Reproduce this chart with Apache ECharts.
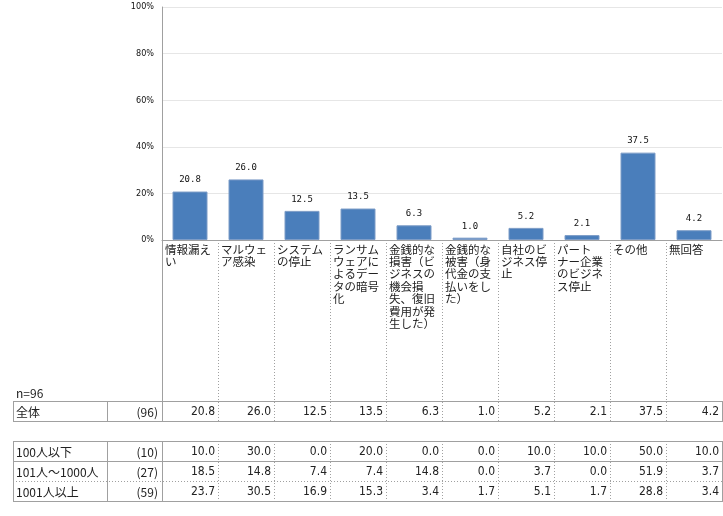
<!DOCTYPE html>
<html>
<head>
<meta charset="utf-8">
<script src="https://cdn.jsdelivr.net/npm/echarts@6/dist/echarts.min.js"></script>
<style>
  html, body { margin: 0; padding: 0; background: #fff; }
  #chart { width: 723px; height: 516px; }
</style>
</head>
<body>
<div id="chart"></div>
<script>
// データ
var categories = [
  '情報漏えい',
  'マルウェア感染',
  'システムの停止',
  'ランサムウェアによるデータの暗号化',
  '金銭的な損害（ビジネスの機会損失、復旧費用が発生した）',
  '金銭的な被害（身代金の支払いをした）',
  '自社のビジネス停止',
  'パートナー企業のビジネス停止',
  'その他',
  '無回答'
];
var totalValues = [20.8, 26.0, 12.5, 13.5, 6.3, 1.0, 5.2, 2.1, 37.5, 4.2];
var sampleLabel = 'n=96';
var totalName = '全体';
var totalCount = '(96)';
var rowNames = ['100人以下', '101人～1000人', '1001人以上'];
var rowCounts = ['(10)', '(27)', '(59)'];
var row100 = [10.0, 30.0, 0.0, 20.0, 0.0, 0.0, 10.0, 10.0, 50.0, 10.0];
var row1000 = [18.5, 14.8, 7.4, 7.4, 14.8, 0.0, 3.7, 0.0, 51.9, 3.7];
var row1001 = [23.7, 30.5, 16.9, 15.3, 3.4, 1.7, 5.1, 1.7, 28.8, 3.4];
var rowValues = [row100, row1000, row1001];
var yMax = 100;
var yStep = 20;

// 4文字ごとに折り返す（行頭禁則あり）
var noStart = '、。）)ーァィゥェォャュョッ';
function wrapLabel(s, n) {
  var lines = [];
  var cur = '';
  for (var i = 0; i < s.length; i++) {
    var ch = s[i];
    if (cur.length >= n) {
      if (noStart.indexOf(ch) >= 0) {
        var last = cur.slice(-1);
        lines.push(cur.slice(0, -1));
        cur = last;
      } else {
        lines.push(cur);
        cur = '';
      }
    }
    cur += ch;
  }
  if (cur) lines.push(cur);
  return lines.join('\n');
}

var myChart = echarts.init(document.getElementById('chart'));
var lineColor = '#a0a0a0';
var cjk = '"Noto Sans CJK JP", sans-serif';
var numFont = '"DejaVu Sans Condensed", "DejaVu Sans", sans-serif';

myChart.setOption({
  animation: false,
  grid: { left: 162, right: 1, top: 7, bottom: 276 },
  xAxis: {
    type: 'category',
    data: categories,
    axisLine: { lineStyle: { color: lineColor } },
    axisTick: { show: false },
    axisLabel: { show: false }
  },
  yAxis: {
    type: 'value',
    min: 0,
    max: yMax,
    interval: yStep,
    axisLine: { show: true, lineStyle: { color: lineColor } },
    axisTick: { show: false },
    splitLine: { lineStyle: { color: '#e6e6e6' } },
    axisLabel: {
      formatter: '{value}%',
      fontSize: 9,
      fontFamily: numFont,
      color: '#111',
      margin: 8
    }
  },
  series: [{
    type: 'bar',
    data: totalValues,
    barWidth: 35,
    itemStyle: { color: '#4a7ebb', borderColor: '#7d9cc7', borderWidth: 1 },
    label: {
      show: true,
      position: 'top',
      distance: 7,
      fontSize: 9,
      fontFamily: '"DejaVu Sans Mono", monospace',
      color: '#111',
      formatter: function (p) { return p.value.toFixed(1); }
    }
  }]
});

// 表と軸ラベルを描く
var plotBottom = 240;
var tableLeft = 13, labelRight = 107, dataLeft = 162, tableRight = 722;
var totalTop = 401, rowH = 20, groupTop = 441;
var centers = categories.map(function (c) {
  return myChart.convertToPixel({ xAxisIndex: 0 }, c);
});
var half = (centers[1] - centers[0]) / 2;
var g = [];

function hline(y, x1, x2, dotted) {
  g.push({ type: 'line', silent: true,
    shape: { x1: x1, y1: y + 0.5, x2: x2, y2: y + 0.5 },
    style: { stroke: lineColor, lineWidth: 1, lineDash: dotted ? [1, 2] : null } });
}
function vline(x, y1, y2, dotted) {
  g.push({ type: 'line', silent: true,
    shape: { x1: x + 0.5, y1: y1, x2: x + 0.5, y2: y2 },
    style: { stroke: lineColor, lineWidth: 1, lineDash: dotted ? [1, 2] : null } });
}
function text(s, x, y, align, font) {
  g.push({ type: 'text', silent: true, x: x, y: y,
    style: { text: s, fill: '#222', fontSize: 12, fontFamily: font || cjk,
      align: align || 'left', verticalAlign: 'middle' } });
}

// カテゴリラベル
categories.forEach(function (c, i) {
  g.push({ type: 'text', silent: true, x: Math.round(centers[i] - half) + 3, y: plotBottom + 3,
    style: { text: wrapLabel(c, 4), fill: '#222', fontSize: 11.5, lineHeight: 12.4,
      fontFamily: cjk, align: 'left', verticalAlign: 'top' } });
});

// 縦線
var groupBottom = groupTop + rowH * rowValues.length;
vline(dataLeft, plotBottom, totalTop + rowH);
vline(dataLeft, groupTop, groupBottom);
for (var i = 1; i < categories.length; i++) {
  var bx = Math.round(centers[i] - half);
  vline(bx, plotBottom, totalTop + rowH, true);
  vline(bx, groupTop, groupBottom, true);
}
[tableLeft, labelRight, tableRight].forEach(function (x) {
  vline(x, totalTop, totalTop + rowH);
  vline(x, groupTop, groupBottom);
});

// 横線
hline(totalTop, tableLeft, tableRight + 1);
hline(totalTop + rowH, tableLeft, tableRight + 1);
hline(groupTop, tableLeft, tableRight + 1);
hline(groupTop + rowH, tableLeft, tableRight + 1);
hline(groupTop + rowH * 2, tableLeft, tableRight + 1, true);
hline(groupBottom, tableLeft, tableRight + 1);

// 表の文字
text(sampleLabel, tableLeft + 3, totalTop - 8);
function tableRow(name, count, vals, top) {
  var cy = top + rowH / 2 + 1;
  text(name, tableLeft + 3, cy);
  text(count, dataLeft - 4, cy, 'right');
  vals.forEach(function (v, i) {
    text(v.toFixed(1), Math.round(centers[i] + half) - 3, cy, 'right', numFont);
  });
}
tableRow(totalName, totalCount, totalValues, totalTop);
rowValues.forEach(function (vals, r) {
  tableRow(rowNames[r], rowCounts[r], vals, groupTop + rowH * r);
});

myChart.setOption({ graphic: { elements: g } });
</script>
</body>
</html>
